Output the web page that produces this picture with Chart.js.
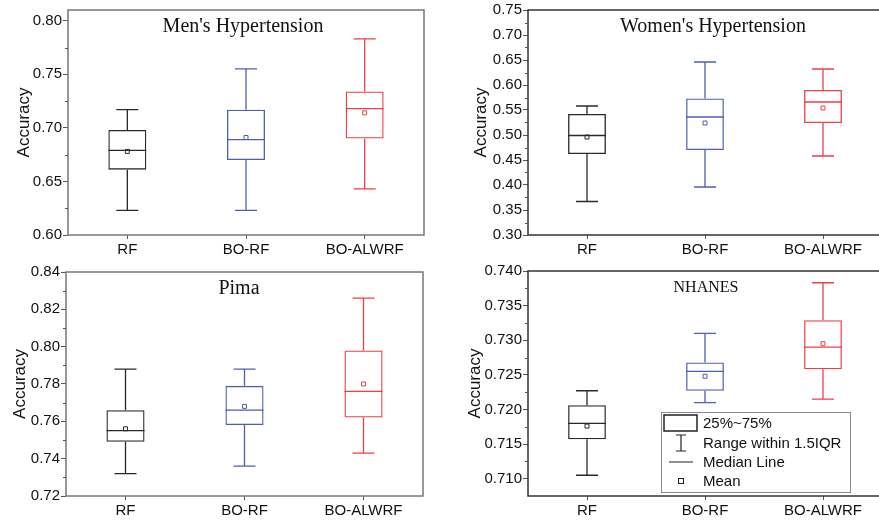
<!DOCTYPE html>
<html lang="en">
<head>
    <meta charset="UTF-8">
    <title>Accuracy box plots</title>
    <style>
        html, body {
            margin: 0;
            padding: 0;
            width: 879px;
            height: 523px;
            overflow: hidden;
            background: #fff;
        }
        .panel {
            position: absolute;
        }
    </style>
</head>
<body>
    <div class="panel" id="p1" style="left:0;top:0;width:440px;height:260px;"><canvas id="c1"></canvas></div>
    <div class="panel" id="p2" style="left:440px;top:0;width:450px;height:260px;"><canvas id="c2"></canvas></div>
    <div class="panel" id="p3" style="left:0;top:260px;width:440px;height:263px;"><canvas id="c3"></canvas></div>
    <div class="panel" id="p4" style="left:440px;top:260px;width:450px;height:263px;"><canvas id="c4"></canvas></div>

    <script src="https://cdn.jsdelivr.net/npm/chart.js"></script>
    <script>
        const categories = ['RF', 'BO-RF', 'BO-ALWRF'];
        const boxColors = ['#2a2a2a', '#4c5fb3', '#ee3f47'];

        // Men's Hypertension
        const menLow    = [0.623, 0.623, 0.643];
        const menQ1     = [0.661, 0.670, 0.690];
        const menMedian = [0.679, 0.689, 0.718];
        const menQ3     = [0.698, 0.717, 0.734];
        const menHigh   = [0.717, 0.755, 0.783];
        const menMean   = [0.678, 0.691, 0.714];
        const menTicks  = [0.60, 0.65, 0.70, 0.75, 0.80];

        // Women's Hypertension
        const womenLow    = [0.367, 0.396, 0.458];
        const womenQ1     = [0.462, 0.470, 0.524];
        const womenMedian = [0.499, 0.536, 0.566];
        const womenQ3     = [0.542, 0.573, 0.590];
        const womenHigh   = [0.558, 0.646, 0.632];
        const womenMean   = [0.496, 0.524, 0.554];
        const womenTicks  = [0.30, 0.35, 0.40, 0.45, 0.50, 0.55, 0.60, 0.65, 0.70, 0.75];

        // Pima
        const pimaLow    = [0.732, 0.736, 0.743];
        const pimaQ1     = [0.749, 0.758, 0.762];
        const pimaMedian = [0.755, 0.766, 0.776];
        const pimaQ3     = [0.766, 0.779, 0.798];
        const pimaHigh   = [0.788, 0.788, 0.826];
        const pimaMean   = [0.756, 0.768, 0.780];
        const pimaTicks  = [0.72, 0.74, 0.76, 0.78, 0.80, 0.82, 0.84];

        // NHANES
        const nhanesLow    = [0.7105, 0.7210, 0.7215];
        const nhanesQ1     = [0.7157, 0.7227, 0.7258];
        const nhanesMedian = [0.7180, 0.7255, 0.7290];
        const nhanesQ3     = [0.7206, 0.7268, 0.7329];
        const nhanesHigh   = [0.7227, 0.7310, 0.7383];
        const nhanesMean   = [0.7176, 0.7248, 0.7295];
        const nhanesTicks  = [0.710, 0.715, 0.720, 0.725, 0.730, 0.735, 0.740];

        const legendLabels = ['25%~75%', 'Range within 1.5IQR', 'Median Line', 'Mean'];

        const sans = '"Liberation Sans", Arial, sans-serif';
        const serif = '"Liberation Serif", "Times New Roman", serif';

        // draws frame, minor ticks, whiskers, medians, title and (optionally) legend
        const boxPlugin = {
            id: 'boxExtras',
            afterDatasetsDraw(chart) {
                const cfg = chart.options.plugins.boxExtras;
                const ctx = chart.ctx;
                const x = chart.scales.x;
                const y = chart.scales.y;
                const area = chart.chartArea;
                const barMeta = chart.getDatasetMeta(0);

                ctx.save();
                // whiskers + median
                ctx.lineWidth = 1.3;
                for (let i = 0; i < categories.length; i++) {
                    const cx = x.getPixelForValue(i);
                    const half = barMeta.data[i].width / 2;
                    const cap = 11;
                    ctx.strokeStyle = boxColors[i];
                    ctx.beginPath();
                    ctx.moveTo(cx, y.getPixelForValue(cfg.high[i]));
                    ctx.lineTo(cx, y.getPixelForValue(cfg.q3[i]));
                    ctx.moveTo(cx, y.getPixelForValue(cfg.q1[i]));
                    ctx.lineTo(cx, y.getPixelForValue(cfg.low[i]));
                    ctx.moveTo(cx - cap, y.getPixelForValue(cfg.high[i]));
                    ctx.lineTo(cx + cap, y.getPixelForValue(cfg.high[i]));
                    ctx.moveTo(cx - cap, y.getPixelForValue(cfg.low[i]));
                    ctx.lineTo(cx + cap, y.getPixelForValue(cfg.low[i]));
                    ctx.moveTo(cx - half, y.getPixelForValue(cfg.median[i]));
                    ctx.lineTo(cx + half, y.getPixelForValue(cfg.median[i]));
                    ctx.stroke();
                }

                // frame
                ctx.strokeStyle = cfg.frameColor;
                ctx.lineWidth = 1.5;
                ctx.strokeRect(area.left, area.top, area.right - area.left, area.bottom - area.top);

                // minor ticks between majors
                ctx.lineWidth = 1;
                ctx.strokeStyle = '#555';
                ctx.beginPath();
                for (let i = 0; i < cfg.ticks.length - 1; i++) {
                    const py = Math.round(y.getPixelForValue((cfg.ticks[i] + cfg.ticks[i + 1]) / 2)) + 0.5;
                    ctx.moveTo(area.left - 3, py);
                    ctx.lineTo(area.left, py);
                }
                ctx.stroke();

                // title
                ctx.fillStyle = '#111';
                ctx.font = cfg.titleSize + 'px ' + serif;
                ctx.textAlign = 'center';
                ctx.textBaseline = 'middle';
                ctx.fillText(cfg.title, cfg.titleX, cfg.titleY);

                if (cfg.legend) {
                    const L = cfg.legend;
                    ctx.strokeStyle = '#888';
                    ctx.lineWidth = 1;
                    ctx.strokeRect(L.x + 0.5, L.y + 0.5, L.w, L.h);
                    ctx.strokeStyle = '#222';
                    ctx.lineWidth = 1.5;
                    const sx = L.x + 20;
                    const rows = [L.y + 11, L.y + 31, L.y + 50, L.y + 69];
                    ctx.strokeRect(L.x + 3, rows[0] - 8, 33, 16);
                    ctx.lineWidth = 1.2;
                    ctx.beginPath();
                    ctx.moveTo(sx, rows[1] - 8); ctx.lineTo(sx, rows[1] + 8);
                    ctx.moveTo(sx - 5, rows[1] - 8); ctx.lineTo(sx + 5, rows[1] - 8);
                    ctx.moveTo(sx - 5, rows[1] + 8); ctx.lineTo(sx + 5, rows[1] + 8);
                    ctx.moveTo(sx - 12, rows[2]); ctx.lineTo(sx + 12, rows[2]);
                    ctx.stroke();
                    ctx.lineWidth = 1;
                    ctx.strokeRect(sx - 2.5, rows[3] - 2.5, 5, 5);
                    ctx.fillStyle = '#111';
                    ctx.font = '15px ' + sans;
                    ctx.textAlign = 'left';
                    legendLabels.forEach((t, i) => ctx.fillText(t, L.x + 42, rows[i] + 1));
                }
                ctx.restore();
            }
        };

        function makeChart(id, p) {
            return new Chart(document.getElementById(id), {
                type: 'bar',
                data: {
                    labels: categories,
                    datasets: [{
                        label: 'box',
                        data: p.q1.map((v, i) => [v, p.q3[i]]),
                        backgroundColor: 'rgba(0,0,0,0)',
                        borderColor: boxColors,
                        borderWidth: 1.3,
                        borderSkipped: false,
                        barPercentage: 0.32,
                        categoryPercentage: 1
                    }, {
                        type: 'line',
                        label: 'mean',
                        data: p.mean,
                        showLine: false,
                        pointStyle: 'rect',
                        pointRadius: 2.8,
                        pointBorderWidth: 1,
                        pointBorderColor: boxColors,
                        pointBackgroundColor: 'rgba(0,0,0,0)'
                    }]
                },
                options: {
                    animation: false,
                    responsive: true,
                    maintainAspectRatio: false,
                    layout: { padding: { top: p.padTop, right: p.padRight, left: 0, bottom: 0 } },
                    plugins: {
                        legend: { display: false },
                        tooltip: { enabled: false },
                        boxExtras: {
                            low: p.low, q1: p.q1, median: p.median, q3: p.q3, high: p.high,
                            ticks: p.ticks, title: p.title, titleX: p.titleX, titleY: p.titleY,
                            titleSize: p.titleSize, frameColor: p.frameColor, legend: p.legend
                        }
                    },
                    scales: {
                        x: {
                            afterFit: s => { s.height = p.xHeight; },
                            grid: { display: true, offset: false, drawOnChartArea: false, tickLength: 4, color: '#555' },
                            border: { display: false },
                            ticks: { padding: 2, color: '#111', font: { family: sans, size: 15 } }
                        },
                        y: {
                            min: p.min,
                            max: p.max,
                            afterFit: s => { s.width = p.yWidth; },
                            afterBuildTicks: s => { s.ticks = p.ticks.map(v => ({ value: v })); },
                            grid: { display: true, drawOnChartArea: false, tickLength: 5, color: '#555' },
                            border: { display: false },
                            ticks: {
                                padding: 1,
                                color: '#111',
                                font: { family: sans, size: 15 },
                                callback: v => v.toFixed(p.decimals)
                            },
                            title: {
                                display: true,
                                text: 'Accuracy',
                                color: '#111',
                                font: { family: sans, size: 17 },
                                padding: { top: p.titlePad, bottom: 0 }
                            }
                        }
                    }
                },
                plugins: [boxPlugin]
            });
        }

        makeChart('c1', {
            low: menLow, q1: menQ1, median: menMedian, q3: menQ3, high: menHigh, mean: menMean,
            ticks: menTicks, min: 0.60, max: 0.81, decimals: 2,
            title: "Men's Hypertension", titleX: 243, titleY: 27, titleSize: 20, frameColor: '#777',
            padTop: 10, padRight: 16, yWidth: 68, xHeight: 25, titlePad: 14
        });
        makeChart('c2', {
            low: womenLow, q1: womenQ1, median: womenMedian, q3: womenQ3, high: womenHigh, mean: womenMean,
            ticks: womenTicks, min: 0.30, max: 0.75, decimals: 2,
            title: "Women's Hypertension", titleX: 273, titleY: 27, titleSize: 20, frameColor: '#333',
            padTop: 10, padRight: 8, yWidth: 88, xHeight: 25, titlePad: 31
        });
        makeChart('c3', {
            low: pimaLow, q1: pimaQ1, median: pimaMedian, q3: pimaQ3, high: pimaHigh, mean: pimaMean,
            ticks: pimaTicks, min: 0.72, max: 0.84, decimals: 2,
            title: 'Pima', titleX: 239, titleY: 29, titleSize: 20, frameColor: '#777',
            padTop: 12, padRight: 17, yWidth: 66, xHeight: 27, titlePad: 10
        });
        makeChart('c4', {
            low: nhanesLow, q1: nhanesQ1, median: nhanesMedian, q3: nhanesQ3, high: nhanesHigh, mean: nhanesMean,
            ticks: nhanesTicks, min: 0.7075, max: 0.740, decimals: 3,
            title: 'NHANES', titleX: 266, titleY: 28, titleSize: 16, frameColor: '#333',
            padTop: 11, padRight: 8, yWidth: 88, xHeight: 27, titlePad: 25,
            legend: { x: 221, y: 152, w: 189, h: 80 }
        });
    </script>
</body>
</html>
